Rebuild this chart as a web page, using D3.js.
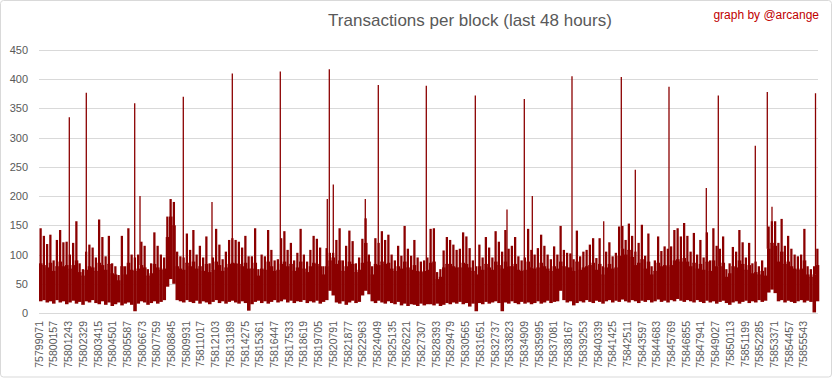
<!DOCTYPE html>
<html>
<head>
<meta charset="utf-8">
<script src="https://cdn.jsdelivr.net/npm/d3@7"></script>
<style>
  html, body { margin: 0; padding: 0; background: #fff; }
  svg { display: block; }
</style>
</head>
<body>
<svg id="chart" width="833" height="379"></svg>
<script>
// ---- data ----
const title = "Transactions per block (last 48 hours)";
const credit = "graph by @arcange";
const firstBlock = 75799071;
const blockCount = 57600;      // 48 hours of blocks
const binSize = 240;           // blocks per envelope bin
const yTicks = [0, 50, 100, 150, 200, 250, 300, 350, 400, 450];
const xTickLabels = [
  "75799071","75800157","75801243","75802329","75803415","75804501","75805587","75806673",
  "75807759","75808845","75809931","75811017","75812103","75813189","75814275","75815361",
  "75816447","75817533","75818619","75819705","75820791","75821877","75822963","75824049",
  "75825135","75826221","75827307","75828393","75829479","75830565","75831651","75832737",
  "75833823","75834909","75835995","75837081","75838167","75839253","75840339","75841425",
  "75842511","75843597","75844683","75845769","75846855","75847941","75849027","75850113",
  "75851199","75852285","75853371","75854457","75855543"
];
// per-bin highest transactions count (excluding isolated spikes)
const binMax = [
  145,132,118,134,90,125,142,121,122,100,120,157,85,75,105,117,112,95,160,130,97,132,85,80,65,132,80,145,100,95,100,122,115,75,85,138,115,100,95,165,
  195,190,105,97,95,136,108,142,100,115,95,131,85,95,144,117,92,105,125,128,125,122,112,132,97,97,145,75,100,97,142,108,90,92,128,140,108,120,90,103,
  144,100,88,108,132,127,112,80,111,103,103,125,145,90,115,141,123,85,95,127,162,100,80,128,120,140,125,134,100,90,115,98,149,110,98,125,95,88,90,95,
  144,145,70,75,107,130,125,117,108,110,138,131,111,90,80,117,95,130,112,95,140,122,105,142,110,115,130,97,90,95,144,108,100,111,134,115,100,92,114,100,
  149,108,103,102,92,141,97,105,108,117,128,94,128,80,105,121,97,103,148,149,125,153,132,105,120,151,98,136,80,90,131,106,114,110,114,142,145,131,154,132,
  105,137,100,125,95,138,90,145,115,110,131,75,85,113,105,142,121,95,120,85,88,80,90,78,148,157,157,120,161,115,132,110,100,97,100,144,80,75,80,110
];
// per-bin upper edge of the dense (solid) band
const binCore = [
  85,82,78,86,72,80,88,80,82,76,82,90,70,64,74,80,78,72,86,82,74,84,68,66,56,80,66,86,74,72,76,82,78,64,68,84,78,74,76,130,
  165,150,80,76,74,86,80,88,76,80,72,84,70,74,88,82,72,78,84,86,85,84,80,86,76,76,86,64,76,74,88,80,72,74,84,88,80,84,72,78,
  88,76,70,80,86,84,80,66,80,90,95,84,90,72,80,88,84,70,74,86,120,88,66,84,82,88,84,86,76,72,80,76,88,78,74,82,72,70,72,74,
  86,88,58,62,78,84,84,80,78,78,86,84,78,72,66,80,74,84,78,74,88,82,76,88,80,80,84,74,72,74,88,78,76,78,86,80,76,72,80,76,
  88,80,78,78,72,88,74,78,80,82,86,74,84,66,78,84,76,78,98,110,100,108,96,82,86,92,76,88,66,72,86,80,82,80,82,90,92,88,94,88,
  80,86,76,84,74,88,72,90,80,80,86,62,68,80,78,90,84,74,82,68,70,66,72,64,110,120,115,88,105,84,88,80,76,74,76,90,66,62,66,82
];
// per-bin lowest transactions count
const binMin = [
  20,22,18,20,16,22,18,20,15,18,21,16,19,14,20,18,22,17,15,20,14,18,12,15,18,13,16,18,14,3,16,20,18,14,17,20,16,19,22,45,
  58,50,22,20,18,22,19,17,21,16,20,18,15,19,22,17,20,16,19,21,18,16,20,17,4,15,19,21,17,20,16,19,22,18,20,23,18,21,17,20,
  19,22,17,20,18,21,16,19,22,38,30,18,16,20,14,18,21,17,19,30,38,32,20,17,21,18,16,20,17,15,19,13,16,12,15,14,12,16,13,15,
  15,13,16,12,14,17,15,18,16,19,15,17,11,16,3,17,15,19,16,18,20,17,3,18,16,20,17,15,19,16,18,15,17,20,16,18,21,17,19,20,
  38,22,18,20,13,17,20,18,22,19,17,21,19,16,20,22,18,21,19,23,20,18,22,20,17,21,19,22,18,20,23,19,21,18,22,20,24,21,19,22,
  20,18,22,19,17,21,18,20,16,19,21,17,14,18,20,16,19,21,17,20,18,22,19,21,35,40,34,20,22,18,21,19,17,20,22,18,21,19,1,20
];
// isolated tall spikes: block number and transactions
const spikeBlocks = [
  75801309,75802564,75806138,75806530,75809727,75811846,75813346,75816890,75820361,75820509,
  75820804,75823167,75824127,75827672,75831291,75833631,75834909,75835500,75838431,75840773,
  75842072,75843106,75845594,75848349,75849235,75851967,75852853,75853200,75856413
];
const spikeValues = [
  335,377,359,200,370,190,410,413,195,417,
  220,195,390,389,372,177,366,200,405,157,
  404,245,387,214,372,286,378,182,376
];

// ---- layout ----
const W = 833, H = 379;
const plot = { left: 39, right: 819, top: 50, bottom: 313 };
const lineColor = "#8b0000";
const gridColor = "#d9d9d9";
const textColor = "#595959";

const svg = d3.select("#chart");

svg.append("rect")
  .attr("x", 0.5).attr("y", 0.5)
  .attr("width", W - 2).attr("height", H - 2.5)
  .attr("rx", 3)
  .attr("fill", "#fff")
  .attr("stroke", gridColor);

const x = d3.scaleLinear().domain([0, blockCount]).range([plot.left, plot.right]);
const y = d3.scaleLinear().domain([0, 450]).range([plot.bottom, plot.top]);

// gridlines
svg.append("g")
  .selectAll("line")
  .data(yTicks)
  .join("line")
  .attr("x1", plot.left).attr("x2", plot.right - 1)
  .attr("y1", d => Math.round(y(d)) + 0.5)
  .attr("y2", d => Math.round(y(d)) + 0.5)
  .attr("stroke", gridColor)
  .attr("stroke-width", 1);

// y axis labels
const yAxis = d3.axisLeft(y).tickValues(yTicks).tickSize(0).tickPadding(0);
const yg = svg.append("g").attr("transform", `translate(${plot.left - 11},0)`).call(yAxis);
yg.select(".domain").remove();
yg.selectAll("text")
  .attr("fill", textColor)
  .style("font-family", "'Liberation Sans', Arial, sans-serif")
  .style("font-size", "11px");

const bins = binMax.map((mx, i) => ({ i, mx, core: binCore[i], mn: binMin[i] }));
const binW = x(binSize) - x(0);
const marks = svg.append("g").attr("fill", lineColor);

// dense band: min -> core, full bin width
marks.selectAll("rect.band")
  .data(bins)
  .join("rect")
  .attr("class", "band")
  .attr("x", d => x(d.i * binSize))
  .attr("width", binW + 0.3)
  .attr("y", d => y(d.core))
  .attr("height", d => y(d.mn) - y(d.core));

// peaks: core -> max, narrow needle
marks.selectAll("rect.peak")
  .data(bins)
  .join("rect")
  .attr("class", "peak")
  .attr("x", d => x(d.i * binSize) + binW * 0.15)
  .attr("width", binW * 0.7)
  .attr("y", d => y(d.mx))
  .attr("height", d => y(d.core) - y(d.mx) + 1);

// spikes
svg.append("g")
  .selectAll("line")
  .data(spikeBlocks.map((b, i) => ({ b: b - firstBlock, v: spikeValues[i] })))
  .join("line")
  .attr("x1", d => x(d.b)).attr("x2", d => x(d.b))
  .attr("y1", d => y(binCore[Math.floor(d.b / binSize)]))
  .attr("y2", d => y(d.v))
  .attr("stroke", lineColor)
  .attr("stroke-width", 1.3);

// x axis labels
const xg = svg.append("g");
xg.selectAll("text")
  .data(xTickLabels)
  .join("text")
  .attr("transform", d => `translate(${x(+d - firstBlock + 0.5)},321) rotate(-90)`)
  .attr("dy", "0.35em")
  .attr("text-anchor", "end")
  .attr("fill", textColor)
  .style("font-family", "'Liberation Sans', Arial, sans-serif")
  .style("font-size", "10.5px")
  .text(d => d);

// title
svg.append("text")
  .attr("x", 470).attr("y", 26)
  .attr("text-anchor", "middle")
  .attr("fill", textColor)
  .style("font-family", "'Liberation Sans', Arial, sans-serif")
  .style("font-size", "17px")
  .text(title);

svg.append("text")
  .attr("x", 819).attr("y", 18.5)
  .attr("text-anchor", "end")
  .attr("fill", "#c00000")
  .style("font-family", "'Liberation Sans', Arial, sans-serif")
  .style("font-size", "12px")
  .text(credit);
</script>
</body>
</html>
